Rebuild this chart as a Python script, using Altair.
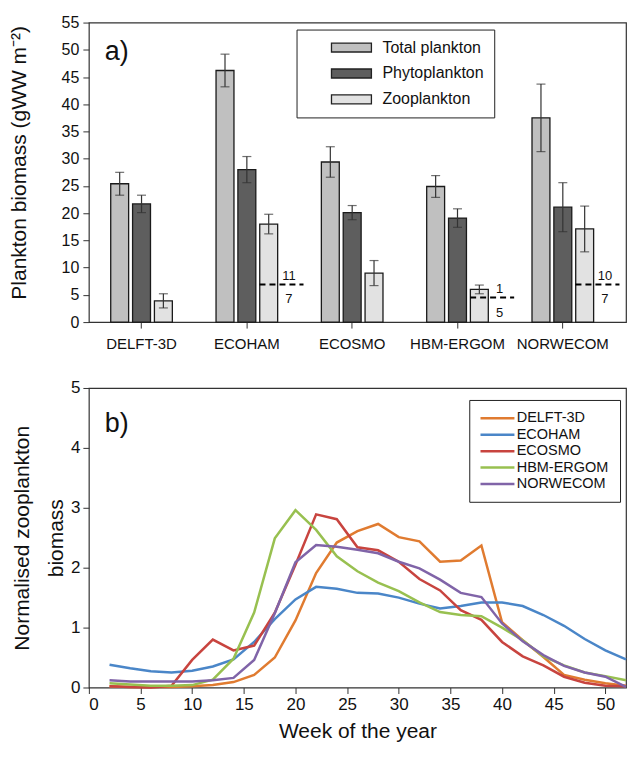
import altair as alt
import pandas as pd

# ---------------- panel a) data ----------------
models = ["DELFT-3D", "ECOHAM", "ECOSMO", "HBM-ERGOM", "NORWECOM"]
series_names = ["Total plankton", "Phytoplankton", "Zooplankton"]
total = [25.4, 46.2, 29.4, 24.9, 37.5]
total_err = [2.1, 3.0, 2.8, 2.0, 6.2]
phyto = [21.7, 28.0, 20.1, 19.1, 21.1]
phyto_err = [1.6, 2.4, 1.3, 1.7, 4.5]
zoo = [3.9, 18.0, 9.0, 6.0, 17.1]
zoo_err = [1.3, 1.8, 2.3, 0.8, 4.2]

obs_models = ["ECOHAM", "HBM-ERGOM", "NORWECOM"]
obs_values = [6.9, 4.5, 6.9]
obs_above = ["11", "1", "10"]
obs_below = ["7", "5", "7"]

# ---------------- panel b) data ----------------
weeks = list(range(2, 53, 2))
delft = [0.02, 0.01, 0.01, 0.01, 0.02, 0.04, 0.09, 0.21, 0.50, 1.12, 1.91, 2.42, 2.61,
         2.73, 2.51, 2.44, 2.10, 2.12, 2.37, 1.09, 0.79, 0.51, 0.21, 0.13, 0.07, 0.03]
ecoham = [0.38, 0.32, 0.27, 0.25, 0.28, 0.35, 0.47, 0.76, 1.14, 1.47, 1.68, 1.65, 1.58,
          1.57, 1.50, 1.40, 1.32, 1.36, 1.42, 1.42, 1.36, 1.21, 1.03, 0.81, 0.62, 0.47]
ecosmo = [0.02, 0.01, 0.00, 0.03, 0.46, 0.80, 0.62, 0.70, 1.25, 2.05, 2.89, 2.81, 2.34,
          2.29, 2.10, 1.81, 1.62, 1.29, 1.13, 0.76, 0.52, 0.37, 0.18, 0.08, 0.03, 0.02]
hbm = [0.07, 0.05, 0.03, 0.03, 0.04, 0.13, 0.48, 1.25, 2.49, 2.96, 2.63, 2.19, 1.94,
       1.75, 1.61, 1.42, 1.26, 1.21, 1.19, 1.00, 0.79, 0.52, 0.37, 0.25, 0.19, 0.12]
norwecom = [0.12, 0.10, 0.10, 0.10, 0.10, 0.12, 0.16, 0.46, 1.24, 2.09, 2.38, 2.35, 2.30,
            2.24, 2.10, 1.99, 1.80, 1.58, 1.51, 1.07, 0.77, 0.54, 0.36, 0.25, 0.18, 0.01]
line_colors = ["#E07B30", "#4A86C8", "#C8443F", "#98C050", "#8064A8"]
bar_colors = ["#c0c0c0", "#5e5e5e", "#e2e2e2"]
y_ticks_a = list(range(0, 56, 5))
y_ticks_b = [0, 1, 2, 3, 4, 5]
x_ticks_b = list(range(0, 51, 5))

FONT = "Liberation Sans"
W = 538
H = 300

# ---------------- tables ----------------
rows = []
for i, m in enumerate(models):
    for s, vals, errs in zip(series_names, [total, phyto, zoo], [total_err, phyto_err, zoo_err]):
        rows.append({"model": m, "series": s, "value": vals[i],
                     "lo": vals[i] - errs[i], "hi": vals[i] + errs[i]})
bars_df = pd.DataFrame(rows)
obs_df = pd.DataFrame({"model": obs_models, "v": obs_values,
                       "above": obs_above, "below": obs_below})

line_rows = []
for name, vals in zip(models, [delft, ecoham, ecosmo, hbm, norwecom]):
    for w, v in zip(weeks, vals):
        line_rows.append({"model": name, "week": w, "value": v})
lines_df = pd.DataFrame(line_rows)

# ---------------- panel a) ----------------
xscale = alt.Scale(domain=models, paddingInner=0, paddingOuter=0.05, align=0)
x_axis = alt.Axis(title=None, labelAngle=0, labelFontSize=15, labelColor="#111",
                  tickSize=6, tickColor="#333", labelPadding=8, domain=False)
x_enc = alt.X("model:N", sort=models, scale=xscale, axis=x_axis)
xoff = alt.XOffset("series:N", sort=series_names,
                   scale=alt.Scale(domain=series_names, paddingInner=0.18, paddingOuter=1))
yscale_a = alt.Scale(domain=[0, 55], nice=False)
y_axis_a = alt.Axis(values=y_ticks_a, title="Plankton biomass (gWW m⁻²)",
                    titleFontSize=21, titleFontWeight="normal", titleColor="#111",
                    titleX=-69, titleY=140, titleBaseline="middle", titleAngle=270,
                    labelFontSize=16, labelColor="#111", tickSize=6, tickColor="#333",
                    labelPadding=4, labelOverlap=False, domain=False, grid=False)


def ya(field):
    return alt.Y(field, scale=yscale_a, axis=y_axis_a)


legend_a = alt.Legend(
    title=None, orient="none", legendX=208, legendY=7,
    strokeColor="#222", fillColor="white", padding=10,
    symbolType="M-4,-0.9L4,-0.9L4,0.9L-4,0.9Z", symbolSize=100,
    symbolStrokeColor="#222", symbolStrokeWidth=1.3, symbolOffset=37,
    labelOffset=23, labelFontSize=16, labelColor="#111", rowPadding=10,
    labelExpr="datum.label + ' \u2003\u2003 .'".replace(" .", ""))

bars = alt.Chart(bars_df).mark_bar(stroke="#1a1a1a", strokeWidth=1.3).encode(
    x=x_enc, xOffset=xoff, y=ya("value:Q"),
    color=alt.Color("series:N", sort=series_names,
                    scale=alt.Scale(domain=series_names, range=bar_colors), legend=legend_a))
err_rule = alt.Chart(bars_df).mark_rule(color="#333", strokeWidth=1.2).encode(
    x=x_enc, xOffset=xoff, y=ya("lo:Q"), y2="hi:Q")
cap_lo = alt.Chart(bars_df).mark_tick(color="#333", size=9, thickness=1.2).encode(
    x=x_enc, xOffset=xoff, y=ya("lo:Q"))
cap_hi = alt.Chart(bars_df).mark_tick(color="#333", size=9, thickness=1.2).encode(
    x=x_enc, xOffset=xoff, y=ya("hi:Q"))
dash = alt.Chart(obs_df).mark_rule(color="black", strokeWidth=2, strokeDash=[6, 4],
                                   x2Offset=4).encode(
    x=alt.X("model:N", sort=models, scale=xscale, axis=x_axis, bandPosition=0.62),
    x2=alt.X2("model:N", bandPosition=1),
    y=ya("v:Q"))
txt_above = alt.Chart(obs_df).mark_text(fontSize=13, dy=-9, font=FONT, color="#111").encode(
    x=alt.X("model:N", sort=models, scale=xscale, axis=x_axis, bandPosition=0.9),
    y=ya("v:Q"), text="above:N")
txt_below = alt.Chart(obs_df).mark_text(fontSize=13, dy=15, font=FONT, color="#111").encode(
    x=alt.X("model:N", sort=models, scale=xscale, axis=x_axis, bandPosition=0.9),
    y=ya("v:Q"), text="below:N")
lab_a = alt.Chart(pd.DataFrame({"t": ["a)"]})).mark_text(
    fontSize=27, align="left", baseline="middle", font=FONT, color="#111").encode(
    x=alt.value(16), y=alt.value(29), text="t:N")

top = alt.layer(bars, err_rule, cap_lo, cap_hi, dash, txt_above, txt_below, lab_a).properties(
    width=W, height=H)

# ---------------- panel b) ----------------
legend_b = alt.Legend(
    title=None, orient="none", legendX=381, legendY=12,
    strokeColor="#222", fillColor="white", padding=11,
    symbolType="M-3.4,0L3.4,0", symbolSize=100, symbolStrokeWidth=2.5,
    symbolOffset=10, labelOffset=12, labelFontSize=14.5, labelColor="#111", rowPadding=1.5)

lines = alt.Chart(lines_df).mark_line(strokeWidth=2.5).encode(
    x=alt.X("week:Q", scale=alt.Scale(domain=[0, 52], nice=False),
            axis=alt.Axis(values=x_ticks_b, title="Week of the year",
                          titleFontSize=21, titleFontWeight="normal", titleColor="#111",
                          titlePadding=8, labelFontSize=17, labelColor="#111",
                          tickSize=6, tickColor="#333", labelPadding=3, domain=False, grid=False)),
    y=alt.Y("value:Q", scale=alt.Scale(domain=[0, 5], nice=False),
            axis=alt.Axis(values=y_ticks_b,
                          title=["Normalised zooplankton", "biomass"],
                          titleFontSize=21, titleFontWeight="normal", titleColor="#111",
                          titleX=-66, titleY=150, titleBaseline="middle", titleAngle=270,
                          titleLineHeight=34, labelOverlap=False,
                          labelFontSize=17, labelColor="#111", tickSize=6, tickColor="#333",
                          labelPadding=3, domain=False, grid=False)),
    color=alt.Color("model:N", sort=models,
                    scale=alt.Scale(domain=models, range=line_colors), legend=legend_b))
lab_b = alt.Chart(pd.DataFrame({"t": ["b)"]})).mark_text(
    fontSize=27, align="left", baseline="middle", font=FONT, color="#111").encode(
    x=alt.value(16), y=alt.value(36), text="t:N")

bottom = alt.layer(lines, lab_b).properties(width=W, height=H)

chart = alt.vconcat(top, bottom, spacing=66, bounds="flush").resolve_scale(
    color="independent"
).properties(
    padding={"left": 0, "top": 5, "right": 0, "bottom": 0}
).configure(font=FONT).configure_view(stroke="#333", strokeWidth=1.2)

chart.save("out.html", embed_options={"renderer": "svg", "actions": False})
